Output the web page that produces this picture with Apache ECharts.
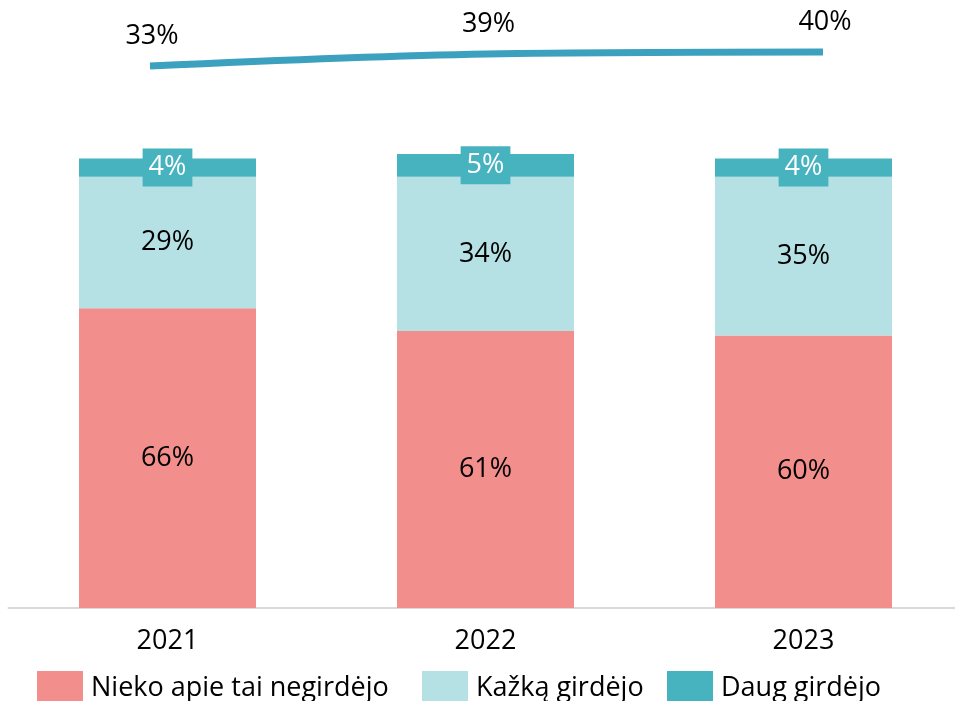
<!DOCTYPE html>
<html>
<head>
<meta charset="utf-8">
<script src="https://cdn.jsdelivr.net/npm/echarts@6/dist/echarts.min.js"></script>
<style>
  html, body { margin: 0; padding: 0; background: #ffffff; overflow: hidden; }
  #chart { width: 972px; height: 701px; }
</style>
</head>
<body>
<div id="chart"></div>
<script>
// Survey years
var years = ['2021', '2022', '2023'];
// Share of respondents by awareness level, %
var nothingHeard = [66, 61, 60];
var somethingHeard = [29, 34, 35];
var muchHeard = [4, 5, 4];
// Total who have heard something, %
var heardTotal = [33, 39, 40];

var seriesNames = ['Nieko apie tai negirdėjo', 'Kažką girdėjo', 'Daug girdėjo'];
var colors = ['#F28E8B', '#B5E1E4', '#47B3BF'];
var lineColor = '#3BA1BF';
var FONT = 'Open Sans';

var chart = echarts.init(document.getElementById('chart'), null, { renderer: 'canvas' });

function pct(p) { return p.value + '%'; }

var baseLabel = {
  show: true,
  position: 'inside',
  formatter: pct,
  fontFamily: FONT,
  fontSize: 27,
  color: '#000000'
};

function legendAt(left, idx) {
  return {
    left: left,
    top: 666,
    itemWidth: 46,
    itemHeight: 34,
    icon: 'rect',
    selectedMode: false,
    data: [seriesNames[idx]],
    textStyle: { fontFamily: FONT, fontSize: 27, color: '#000000', padding: [0, 0, 0, 3] }
  };
}

chart.setOption({
  animation: false,
  backgroundColor: '#ffffff',
  grid: [
    { left: 8.5, top: 154, width: 954, height: 454 },
    { left: 150, width: 673, top: 32, height: 60 }
  ],
  legend: [legendAt(32, 0), legendAt(417, 1), legendAt(662, 2)],
  xAxis: [
    {
      type: 'category',
      gridIndex: 0,
      data: years,
      axisLine: { show: true, lineStyle: { color: '#D9D9D9', width: 2 } },
      axisTick: { show: false },
      axisLabel: { fontFamily: FONT, fontSize: 27, color: '#000000', margin: 20, lineHeight: 27 }
    },
    {
      type: 'category',
      gridIndex: 1,
      data: years,
      boundaryGap: false,
      show: false
    }
  ],
  yAxis: [
    { type: 'value', gridIndex: 0, min: 0, max: 100, show: false, splitLine: { show: false } },
    { type: 'value', gridIndex: 1, min: 20, max: 50, show: false, splitLine: { show: false } }
  ],
  series: [
    {
      name: seriesNames[0],
      type: 'bar',
      stack: 'total',
      xAxisIndex: 0,
      yAxisIndex: 0,
      barWidth: 177,
      itemStyle: { color: colors[0] },
      label: baseLabel,
      data: nothingHeard
    },
    {
      name: seriesNames[1],
      type: 'bar',
      stack: 'total',
      xAxisIndex: 0,
      yAxisIndex: 0,
      barWidth: 177,
      itemStyle: { color: colors[1] },
      label: baseLabel,
      data: somethingHeard
    },
    {
      name: seriesNames[2],
      type: 'bar',
      stack: 'total',
      xAxisIndex: 0,
      yAxisIndex: 0,
      barWidth: 177,
      itemStyle: { color: colors[2] },
      label: {
        show: true,
        position: 'inside',
        formatter: pct,
        fontFamily: FONT,
        fontSize: 27,
        lineHeight: 28,
        color: '#ffffff',
        backgroundColor: colors[2],
        padding: [5, 6, 5, 6]
      },
      data: muchHeard
    },
    {
      name: 'Girdėjo',
      type: 'line',
      xAxisIndex: 1,
      yAxisIndex: 1,
      smooth: 0.35,
      showSymbol: true,
      symbol: 'circle',
      symbolSize: 0.01,
      lineStyle: { color: lineColor, width: 7, cap: 'butt' },
      itemStyle: { color: lineColor },
      label: {
        show: true,
        position: 'inside',
        offset: [2, -30],
        formatter: pct,
        fontFamily: FONT,
        fontSize: 27,
        color: '#000000'
      },
      data: heardTotal
    }
  ]
});
</script>
</body>
</html>
